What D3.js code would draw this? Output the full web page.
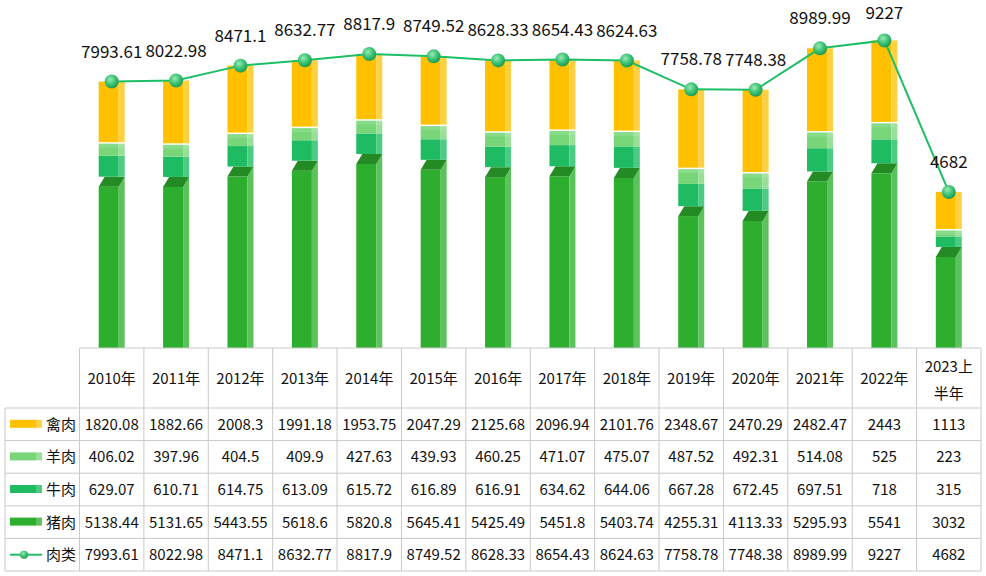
<!doctype html>
<html>
<head>
<meta charset="utf-8">
<script src="https://cdn.jsdelivr.net/npm/d3@7"></script>
<style>
    body { margin: 0; background: #fff; }
    svg { display: block; font-family: "Noto Sans CJK SC", "Noto Sans", sans-serif; }
</style>
</head>
<body>
<div id="chart"></div>
<script>
    // categories and series
    var years = ["2010年", "2011年", "2012年", "2013年", "2014年", "2015年", "2016年",
        "2017年", "2018年", "2019年", "2020年", "2021年", "2022年", "2023上半年"];
    var poultry = [1820.08, 1882.66, 2008.3, 1991.18, 1953.75, 2047.29, 2125.68, 2096.94, 2101.76, 2348.67, 2470.29, 2482.47, 2443, 1113];
    var mutton = [406.02, 397.96, 404.5, 409.9, 427.63, 439.93, 460.25, 471.07, 475.07, 487.52, 492.31, 514.08, 525, 223];
    var beef = [629.07, 610.71, 614.75, 613.09, 615.72, 616.89, 616.91, 634.62, 644.06, 667.28, 672.45, 697.51, 718, 315];
    var pork = [5138.44, 5131.65, 5443.55, 5618.6, 5820.8, 5645.41, 5425.49, 5451.8, 5403.74, 4255.31, 4113.33, 5295.93, 5541, 3032];
    var total = [7993.61, 8022.98, 8471.1, 8632.77, 8817.9, 8749.52, 8628.33, 8654.43, 8624.63, 7758.78, 7748.38, 8989.99, 9227, 4682];

    var W = 986, H = 576;
    var tableTop = 348, headH = 60, rowH = 32.6;
    var tableLeft = 79.5, tableRight = 981, legendLeft = 5;

    // stacked from bottom: 猪肉, 牛肉, 羊肉, 禽肉
    var series = [
        { name: "猪肉", values: pork, front: "#2eae2e", side: "#5cc25c", top: "#248b24" },
        { name: "牛肉", values: beef, front: "#1fbb62", side: "#4ccb82", top: "#1fbb62" },
        { name: "羊肉", values: mutton, front: "#78d678", side: "#98e098", top: "#78d678" },
        { name: "禽肉", values: poultry, front: "#ffc000", side: "#ffd040", top: "#ffc000" }
    ];
    // table row order
    var tableRows = [series[3], series[2], series[1], series[0]];

    var svg = d3.select("#chart").append("svg")
        .attr("width", W).attr("height", H);

    var x = d3.scaleBand().domain(years).range([tableLeft, tableRight]);
    var y = d3.scaleLinear().domain([0, 9000]).range([tableTop, tableTop - 300]);

    var frontW = 20, sideW = 6, depth = 10;

    var defs = svg.append("defs");
    var grad = defs.append("radialGradient").attr("id", "dotGrad")
        .attr("cx", "40%").attr("cy", "35%").attr("r", "65%");
    grad.append("stop").attr("offset", "0%").attr("stop-color", "#9be8b4");
    grad.append("stop").attr("offset", "55%").attr("stop-color", "#3cc476");
    grad.append("stop").attr("offset", "100%").attr("stop-color", "#1e9a52");

    // bars
    var bars = svg.append("g");
    years.forEach(function (yr, i) {
        var cx = x(yr) + x.bandwidth() / 2;
        var x0 = cx - (frontW + sideW) / 2;
        var x1 = x0 + frontW;
        var base = 0;
        series.forEach(function (s, k) {
            var v = s.values[i];
            var yTop = y(base + v), yBot = y(base);
            var g = bars.append("g");
            if (k == 0) {
                // pork: front face sits lower, with a visible top face
                g.append("rect").attr("x", x0).attr("y", yTop + depth)
                    .attr("width", frontW).attr("height", yBot - yTop - depth)
                    .attr("fill", s.front);
                g.append("path")
                    .attr("d", "M" + x1 + "," + (yTop + depth) + "L" + (x1 + sideW) + "," + yTop +
                        "L" + (x1 + sideW) + "," + yBot + "L" + x1 + "," + yBot + "Z")
                    .attr("fill", s.side);
                g.append("path")
                    .attr("d", "M" + x0 + "," + (yTop + depth) + "L" + x1 + "," + (yTop + depth) +
                        "L" + (x1 + sideW) + "," + yTop + "L" + (x0 + sideW) + "," + yTop + "Z")
                    .attr("fill", s.top);
            } else {
                var gap = (k == 2) ? 1.5 : 0;
                g.append("rect").attr("x", x0).attr("y", yTop + gap)
                    .attr("width", frontW).attr("height", yBot - yTop - gap)
                    .attr("fill", s.front);
                g.append("rect").attr("x", x1).attr("y", yTop + gap)
                    .attr("width", sideW).attr("height", yBot - yTop - gap)
                    .attr("fill", s.side);
                if (k == 2) {
                    g.append("rect").attr("x", x0).attr("y", yTop + gap)
                        .attr("width", frontW + sideW).attr("height", 4)
                        .attr("fill", "#ffffff").attr("opacity", 0.12);
                }
            }
            base += v;
        });
    });

    // total line
    var lineGen = d3.line()
        .x(function (d, i) { return x(years[i]) + x.bandwidth() / 2; })
        .y(function (d) { return y(d); });
    svg.append("path").datum(total)
        .attr("d", lineGen)
        .attr("fill", "none").attr("stroke", "#1dbf66").attr("stroke-width", 2);

    svg.append("g").selectAll("circle").data(total).enter().append("circle")
        .attr("cx", function (d, i) { return x(years[i]) + x.bandwidth() / 2; })
        .attr("cy", function (d) { return y(d); })
        .attr("r", 7)
        .attr("fill", "url(#dotGrad)");

    svg.append("g").selectAll("text").data(total).enter().append("text")
        .attr("x", function (d, i) { return x(years[i]) + x.bandwidth() / 2; })
        .attr("y", function (d) { return Math.max(y(d) - 24, 19); })
        .attr("text-anchor", "middle")
        .attr("font-size", 17)
        .attr("fill", "#111")
        .text(function (d) { return d; });

    // data table
    var grid = "#c9c9c9";
    var tbl = svg.append("g");
    var nRows = 5;
    var bottom = tableTop + headH + nRows * rowH;

    // horizontal lines
    tbl.append("line").attr("x1", tableLeft).attr("x2", tableRight)
        .attr("y1", tableTop).attr("y2", tableTop).attr("stroke", grid);
    for (var r = 0; r <= nRows; r++) {
        var yy = tableTop + headH + r * rowH;
        tbl.append("line").attr("x1", legendLeft).attr("x2", tableRight)
            .attr("y1", yy).attr("y2", yy).attr("stroke", grid);
    }
    // vertical lines
    tbl.append("line").attr("x1", legendLeft).attr("x2", legendLeft)
        .attr("y1", tableTop + headH).attr("y2", bottom).attr("stroke", grid);
    years.forEach(function (yr) {
        tbl.append("line").attr("x1", x(yr)).attr("x2", x(yr))
            .attr("y1", tableTop).attr("y2", bottom).attr("stroke", grid);
    });
    tbl.append("line").attr("x1", tableRight).attr("x2", tableRight)
        .attr("y1", tableTop).attr("y2", bottom).attr("stroke", grid);

    // header
    years.forEach(function (yr) {
        var cx = x(yr) + x.bandwidth() / 2;
        var t = tbl.append("text").attr("x", cx).attr("text-anchor", "middle")
            .attr("font-size", 15).attr("fill", "#111");
        if (yr == "2023上半年") {
            t.append("tspan").attr("x", cx).attr("y", tableTop + 24).text("2023上");
            t.append("tspan").attr("x", cx).attr("y", tableTop + 51).text("半年");
        } else {
            t.attr("y", tableTop + headH / 2 + 5.5).text(yr);
        }
    });

    // body rows
    var allRows = tableRows.concat([{ name: "肉类", values: total, line: true }]);
    allRows.forEach(function (row, r) {
        var cy = tableTop + headH + r * rowH + rowH / 2;
        if (row.line) {
            tbl.append("line").attr("x1", 10).attr("x2", 42)
                .attr("y1", cy).attr("y2", cy)
                .attr("stroke", "#1dbf66").attr("stroke-width", 2);
            tbl.append("circle").attr("cx", 24).attr("cy", cy).attr("r", 4)
                .attr("fill", "url(#dotGrad)");
        } else {
            tbl.append("rect").attr("x", 10).attr("y", cy - 4.5)
                .attr("width", 26).attr("height", 8).attr("fill", row.front);
            tbl.append("rect").attr("x", 36).attr("y", cy - 4.5)
                .attr("width", 6).attr("height", 8).attr("fill", row.side);
        }
        tbl.append("text").attr("x", 46).attr("y", cy + 5.5)
            .attr("font-size", 15).attr("fill", "#111").text(row.name);
        row.values.forEach(function (v, i) {
            tbl.append("text")
                .attr("x", x(years[i]) + x.bandwidth() / 2)
                .attr("y", cy + 5.5)
                .attr("text-anchor", "middle")
                .attr("font-size", 15).attr("fill", "#111")
                .text(v);
        });
    });
</script>
</body>
</html>
